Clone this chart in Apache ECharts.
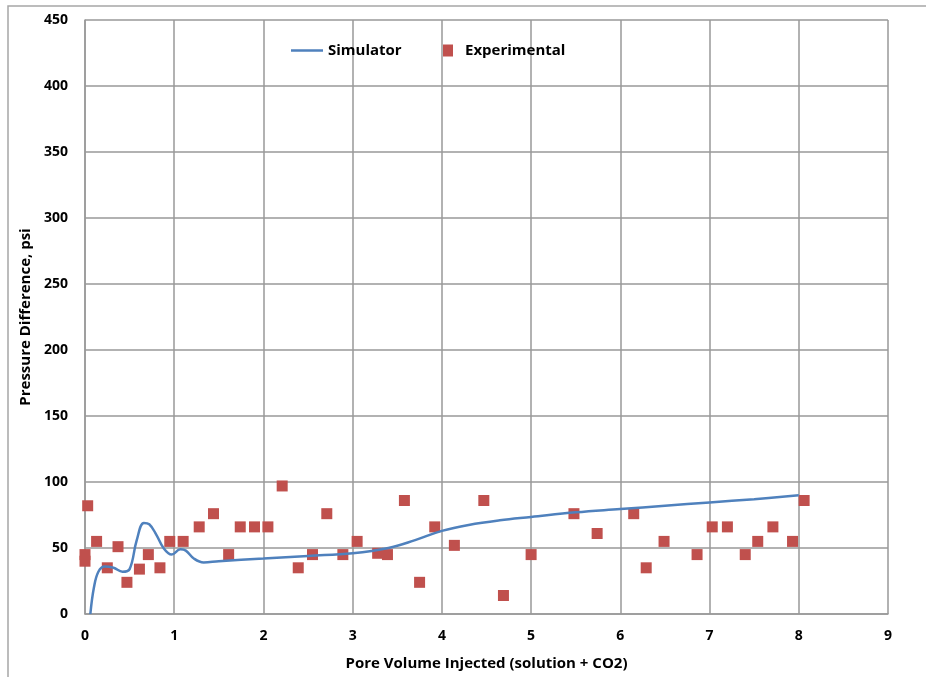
<!DOCTYPE html>
<html>
<head>
<meta charset="utf-8">
<script src="https://cdn.jsdelivr.net/npm/echarts@6/dist/echarts.min.js"></script>
<style>
html,body{margin:0;padding:0;background:#fff;}
#chart{width:926px;height:677px;}
</style>
</head>
<body>
<div id="chart"></div>
<script>
const xTicks = [0,1,2,3,4,5,6,7,8,9];
const yTicks = [0,50,100,150,200,250,300,350,400,450];

const simulatorX = [0.06,0.1,0.15,0.22,0.32,0.42,0.5,0.58,0.66,0.72,0.8,0.88,0.97,1.07,1.13,1.22,1.33,1.5,2.0,2.5,3.0,3.4,3.7,4.0,4.3,4.65,5.0,5.5,6.0,6.5,7.0,7.5,8.0];
const simulatorY = [0,20,32,36,35,32,34,56,69,68,60,50,45,49,48,42,39,40,42,44,46,50,56,63,67.5,71,73.5,77,79.5,82,84.5,87,90];

const experimentalX = [0.03,0.0,0.0,0.13,0.25,0.37,0.47,0.61,0.71,0.84,0.95,1.10,1.28,1.44,1.61,1.74,1.90,2.05,2.21,2.39,2.55,2.71,2.89,3.05,3.28,3.39,3.58,3.75,3.92,4.14,4.47,4.69,5.00,5.48,5.74,6.15,6.29,6.49,6.86,7.03,7.20,7.40,7.54,7.71,7.93,8.06];
const experimentalY = [82,45,40,55,35,51,24,34,45,35,55,55,66,76,45,66,66,66,97,35,45,76,45,55,46,45,86,24,66,52,86,14,45,76,61,76,35,55,45,66,66,45,55,66,55,86];

const font = '"Open Sans", Lato, sans-serif';
const legendText = {fontFamily:font, fontWeight:'bold', fontSize:15, color:'#000'};
const chart = echarts.init(document.getElementById('chart'), null, {renderer:'canvas'});
chart.setOption({
  backgroundColor:'#fff',
  animation:false,
  graphic:[{type:'rect', shape:{x:8,y:6,width:1000,height:1000}, style:{fill:'none', stroke:'#a6a6a6', lineWidth:1.5}, z:-10}],
  grid:{left:85, right:38, top:20, bottom:63},
  legend:[
    {top:38, left:286, itemWidth:32, itemHeight:12, textStyle:legendText,
     data:[{name:'Simulator', icon:'path://M0,5 L32,5 L32,7.5 L0,7.5 Z'}]},
    {top:38, left:438, itemWidth:24, itemHeight:12, textStyle:legendText,
     data:[{name:'Experimental', icon:'path://M0,0 L10,0 L10,12 L0,12 Z'}]}
  ],
  xAxis:{
    type:'value', min:0, max:9, interval:1,
    name:'Pore Volume Injected (solution + CO2)', nameLocation:'middle', nameGap:42,
    nameTextStyle:{fontFamily:font, fontWeight:'bold', fontSize:15, color:'#000'},
    axisLine:{show:true, lineStyle:{color:'#999', width:1.5}},
    axisTick:{show:false},
    axisLabel:{fontFamily:font, fontWeight:'bold', fontSize:14, color:'#000', margin:15, formatter:v=>xTicks.includes(v)?String(v):''},
    splitLine:{show:true, lineStyle:{color:'#999', width:1.5}}
  },
  yAxis:{
    type:'value', min:0, max:450, interval:50,
    name:'Pressure Difference, psi', nameLocation:'middle', nameGap:52, nameRotate:90,
    nameTextStyle:{fontFamily:font, fontWeight:'bold', fontSize:15, color:'#000'},
    axisLine:{show:true, lineStyle:{color:'#999', width:1.5}},
    axisTick:{show:false},
    axisLabel:{fontFamily:font, fontWeight:'bold', fontSize:14, color:'#000', margin:17, formatter:v=>yTicks.includes(v)?String(v):''},
    splitLine:{show:true, lineStyle:{color:'#999', width:1.5}}
  },
  series:[
    {name:'Simulator', type:'line', smooth:0.4, showSymbol:false, clip:true,
     data:simulatorX.map((x,i)=>[x,simulatorY[i]]),
     lineStyle:{color:'#4F81BD', width:2.5}, itemStyle:{color:'#4F81BD'}},
    {name:'Experimental', type:'scatter', symbol:'rect', symbolSize:11,
     data:experimentalX.map((x,i)=>[x,experimentalY[i]]),
     itemStyle:{color:'#C0504D', opacity:1}}
  ]
});
</script>
</body>
</html>
